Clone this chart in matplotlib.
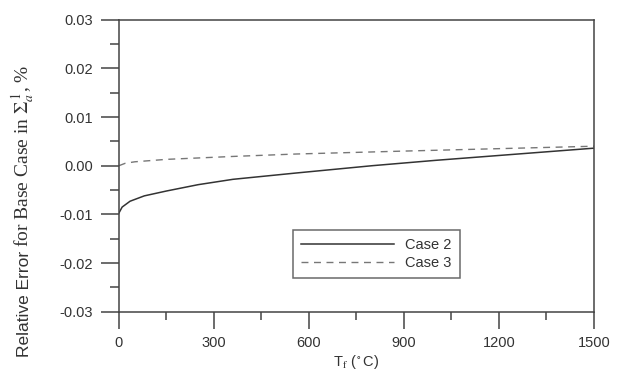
import numpy as np
import matplotlib.pyplot as plt
from matplotlib.ticker import MultipleLocator

plt.rcParams['font.family'] = ['Liberation Sans', 'DejaVu Sans']
plt.rcParams['mathtext.fontset'] = 'stix'

# Datos
t_case2 = [0, 10, 35, 80, 150, 250, 360, 560, 800, 1000, 1200, 1500]
err_case2 = [-0.0097, -0.0085, -0.0073, -0.0062, -0.0052, -0.0039, -0.0028,
             -0.0015, 0.0000, 0.0011, 0.0021, 0.0036]
t_case3 = [0, 20, 50, 150, 360, 560, 900, 1200, 1500]
err_case3 = [0.0000, 0.0005, 0.0008, 0.0013, 0.0019, 0.0024, 0.0030, 0.0035, 0.0040]

xticks = [0, 300, 600, 900, 1200, 1500]
yticks = [-0.03, -0.02, -0.01, 0.00, 0.01, 0.02, 0.03]

grey = '#444444'
txt = '#333333'
W, H = 620, 371

fig = plt.figure(figsize=(6.2, 3.71), dpi=100)
ax = fig.add_axes([0.1919, 0.1598, 0.7661, 0.7872])

ax.plot(t_case2, err_case2, color='#333333', lw=1.1, label='Case 2')
ax.plot(t_case3, err_case3, color='#777777', lw=1.0, dashes=(5, 4), label='Case 3')

ax.set_xlim(0, 1500)
ax.set_ylim(-0.03, 0.03)
ax.set_xticks(xticks)
ax.set_yticks(yticks)
ax.set_yticklabels([f'{v:.2f}' for v in yticks])
ax.xaxis.set_minor_locator(MultipleLocator(150))
ax.yaxis.set_minor_locator(MultipleLocator(0.005))

for s in ax.spines.values():
    s.set_color(grey)
    s.set_linewidth(1.1)

ax.tick_params(axis='y', which='major', direction='out', length=13, width=1.1,
               color=grey, labelcolor=txt, labelsize=10.5, pad=5.5)
ax.tick_params(axis='y', which='minor', direction='out', length=6.5, width=1.1, color=grey)
ax.tick_params(axis='x', which='major', direction='out', length=12.5, width=1.1,
               color=grey, labelcolor=txt, labelsize=10.5, pad=5)
ax.tick_params(axis='x', which='minor', direction='out', length=6, width=1.1, color=grey)

ax.set_xlabel(r'T$_\mathrm{f}$ ($^\circ$C)', fontsize=10.5, color=txt, labelpad=2)

# etiqueta del eje y en dos trozos (sans + serif)
fig.canvas.draw()
r = fig.canvas.get_renderer()
xb = 29 / W
y0 = 14
t1 = fig.text(xb, y0 / H, 'Relative Error', rotation=90, rotation_mode='anchor',
              ha='left', va='baseline', fontsize=12.5, color=txt)
h1 = t1.get_window_extent(r).height
y1 = y0 + h1 + 4
t2 = fig.text(xb, y1 / H, r'for Base Case in $\Sigma_a^{\,1}$, %', rotation=90,
              rotation_mode='anchor', ha='left', va='baseline', fontsize=14,
              color=txt, family=['Liberation Serif', 'DejaVu Serif'])

leg = ax.legend(loc='upper left', bbox_to_anchor=(0.366, 0.280), frameon=True,
                fancybox=False, fontsize=10.5, handlelength=6.4, handletextpad=0.75,
                borderpad=0.55, labelspacing=0.25, borderaxespad=0)
leg.get_frame().set_edgecolor(grey)
leg.get_frame().set_linewidth(1.1)
for t in leg.get_texts():
    t.set_color(txt)

plt.savefig('out.png', dpi=100)
